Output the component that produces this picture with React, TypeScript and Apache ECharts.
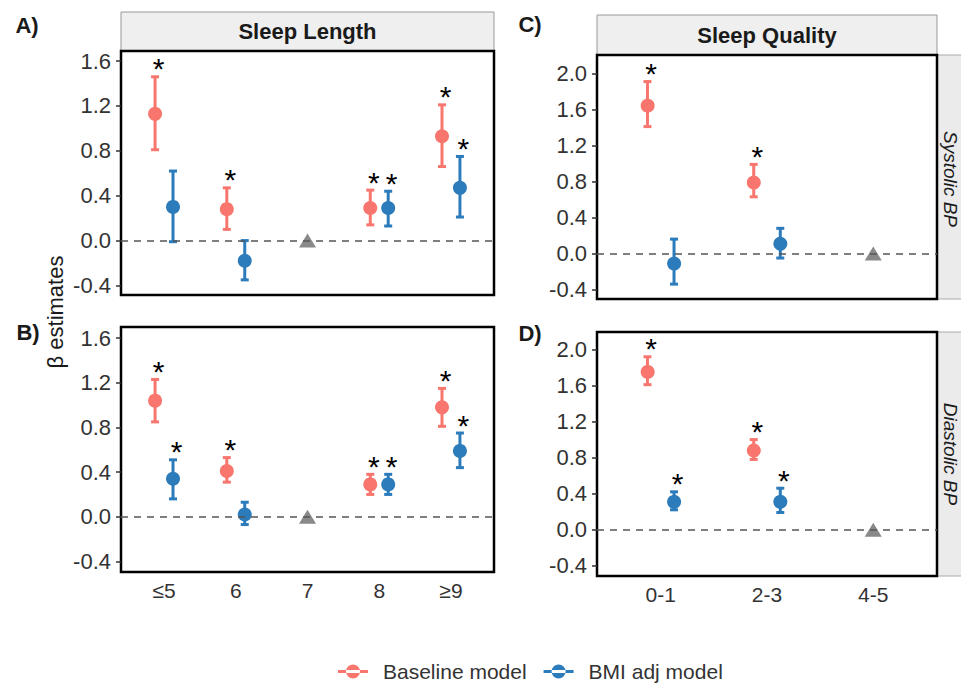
import React, { useEffect, useRef } from 'react';
import * as echarts from 'echarts';

// ---------- categories ----------
const lenCats = ['≤5', '6', '7', '8', '≥9'];
const qualCats = ['0-1', '2-3', '4-5'];
const lenRefIndex = 2; // 7 hours = reference
const qualRefIndex = 2; // 4-5 = reference

// ---------- tick labels ----------
const lenTicks = [-0.4, 0, 0.4, 0.8, 1.2, 1.6];
const qualTicks = [-0.4, 0, 0.4, 0.8, 1.2, 1.6, 2.0];

// ---------- A) Sleep length, systolic BP ----------
const sbpLenBaseEst = [1.13, 0.28, null, 0.29, 0.93];
const sbpLenBaseLo = [0.81, 0.10, null, 0.14, 0.66];
const sbpLenBaseHi = [1.46, 0.47, null, 0.45, 1.21];
const sbpLenBaseSig = [1, 1, 0, 1, 1];
const sbpLenBmiEst = [0.30, -0.18, null, 0.29, 0.47];
const sbpLenBmiLo = [-0.01, -0.35, null, 0.13, 0.21];
const sbpLenBmiHi = [0.62, 0.0, null, 0.44, 0.75];
const sbpLenBmiSig = [0, 0, 0, 1, 1];

// ---------- B) Sleep length, diastolic BP ----------
const dbpLenBaseEst = [1.04, 0.41, null, 0.29, 0.98];
const dbpLenBaseLo = [0.85, 0.31, null, 0.20, 0.81];
const dbpLenBaseHi = [1.23, 0.53, null, 0.38, 1.15];
const dbpLenBaseSig = [1, 1, 0, 1, 1];
const dbpLenBmiEst = [0.34, 0.02, null, 0.29, 0.59];
const dbpLenBmiLo = [0.16, -0.07, null, 0.20, 0.44];
const dbpLenBmiHi = [0.51, 0.13, null, 0.38, 0.75];
const dbpLenBmiSig = [1, 0, 0, 1, 1];

// ---------- C) Sleep quality, systolic BP ----------
const sbpQualBaseEst = [1.66, 0.80, null];
const sbpQualBaseLo = [1.41, 0.63, null];
const sbpQualBaseHi = [1.91, 0.99, null];
const sbpQualBaseSig = [1, 1, 0];
const sbpQualBmiEst = [-0.10, 0.12, null];
const sbpQualBmiLo = [-0.34, -0.05, null];
const sbpQualBmiHi = [0.16, 0.28, null];
const sbpQualBmiSig = [0, 0, 0];

// ---------- D) Sleep quality, diastolic BP ----------
const dbpQualBaseEst = [1.77, 0.89, null];
const dbpQualBaseLo = [1.61, 0.78, null];
const dbpQualBaseHi = [1.92, 1.00, null];
const dbpQualBaseSig = [1, 1, 0];
const dbpQualBmiEst = [0.32, 0.32, null];
const dbpQualBmiLo = [0.22, 0.19, null];
const dbpQualBmiHi = [0.42, 0.46, null];
const dbpQualBmiSig = [1, 1, 0];

const refValue = 0;

const FONT = '"Liberation Sans", Arial, Helvetica, sans-serif';
const RED = '#F8766D';
const BLUE = '#2C7BBB';
const GREY = '#6B6B6B';
const DODGE = 0.125;

function rows(est: (number | null)[], lo: (number | null)[], hi: (number | null)[], sig: number[]) {
  const out: number[][] = [];
  est.forEach((e, i) => {
    if (e !== null) out.push([i, e as number, lo[i] as number, hi[i] as number, sig[i]]);
  });
  return out;
}

function errSeries(name: string, color: string, gi: number, dodge: number, data: number[][]) {
  return {
    type: 'custom',
    name,
    xAxisIndex: gi,
    yAxisIndex: gi,
    clip: false,
    itemStyle: { color },
    encode: { x: 0, y: [1, 2, 3] },
    data,
    renderItem: (params: any, api: any) => {
      const xi = api.value(0) + dodge;
      const pE = api.coord([xi, api.value(1)]);
      const pL = api.coord([xi, api.value(2)]);
      const pH = api.coord([xi, api.value(3)]);
      const x = pE[0];
      const cap = 4;
      const ls = { stroke: color, lineWidth: 3 };
      const children: any[] = [
        { type: 'line', shape: { x1: x, y1: pL[1], x2: x, y2: pH[1] }, style: ls },
        { type: 'line', shape: { x1: x - cap, y1: pL[1], x2: x + cap, y2: pL[1] }, style: ls },
        { type: 'line', shape: { x1: x - cap, y1: pH[1], x2: x + cap, y2: pH[1] }, style: ls },
        { type: 'circle', shape: { cx: x, cy: pE[1], r: 7 }, style: { fill: color } },
      ];
      if (api.value(4) === 1) {
        children.push({
          type: 'text',
          style: {
            text: '*',
            x: x + 3.5,
            y: pH[1] - 8,
            fontSize: 30,
            fontFamily: FONT,
            fill: '#000',
            textAlign: 'center',
            textVerticalAlign: 'middle',
          },
        });
      }
      return { type: 'group', children };
    },
  };
}

function refSeries(gi: number, refIdx: number) {
  return {
    type: 'scatter',
    name: 'Reference',
    xAxisIndex: gi,
    yAxisIndex: gi,
    symbol: 'triangle',
    symbolSize: [17, 14],
    itemStyle: { color: GREY },
    data: [[refIdx, refValue]],
    z: 1,
    markLine: {
      silent: true,
      symbol: 'none',
      label: { show: false },
      lineStyle: { color: '#555', width: 1.5, type: [7, 6] },
      data: [{ yAxis: refValue }],
    },
  };
}

const grids = [
  { left: 121, top: 51, width: 373, height: 244 },
  { left: 121, top: 327, width: 373, height: 245 },
  { left: 597, top: 55, width: 340, height: 244 },
  { left: 597, top: 332, width: 340, height: 244 },
];

function xAxisFor(gi: number, cats: string[], show: boolean) {
  const idx = cats.map((_, i) => i);
  return {
    type: 'value',
    gridIndex: gi,
    position: 'bottom',
    min: -0.6,
    max: cats.length - 0.4,
    axisLine: { show: false, onZero: false },
    axisTick: { show: false },
    splitLine: { show: false },
    axisLabel: {
      show,
      customValues: idx,
      formatter: (v: number) => cats[Math.round(v)] ?? '',
      fontSize: 21,
      fontFamily: FONT,
      color: '#333',
      margin: 8,
    },
  };
}

function yAxisFor(gi: number, ticks: number[], min: number, max: number) {
  return {
    type: 'value',
    gridIndex: gi,
    position: 'left',
    min,
    max,
    axisLine: { show: false, onZero: false },
    splitLine: { show: false },
    axisTick: { show: true, customValues: ticks, length: 5, lineStyle: { color: '#333', width: 1.5 } },
    axisLabel: {
      customValues: ticks,
      formatter: (v: number) => (Math.abs(v) < 1e-9 ? '0.0' : v.toFixed(1)),
      fontSize: 22,
      fontFamily: FONT,
      color: '#333',
      margin: 10,
    },
  };
}

const legendIcon = 'path://M0,5.5 L30,5.5 L30,8.5 L0,8.5 Z M8,7 A7,7 0 1,0 22,7 A7,7 0 1,0 8,7 Z';

function stripText(text: string, x: number, y: number, bold: boolean, italic: boolean, size: number, rot = 0) {
  return {
    type: 'text',
    x,
    y,
    rotation: rot,
    style: {
      text,
      x: 0,
      y: 0,
      fontSize: size,
      fontWeight: bold ? 'bold' : 'normal',
      fontStyle: italic ? 'italic' : 'normal',
      fontFamily: FONT,
      fill: '#1a1a1a',
      textAlign: 'center',
      textVerticalAlign: 'middle',
    },
  };
}

export default function App() {
  const ref = useRef<HTMLDivElement>(null);
  useEffect(() => {
    if (!ref.current) return;
    const chart = echarts.init(ref.current, undefined, { renderer: 'svg' });
    const option: any = {
      animation: false,
      backgroundColor: '#fff',
      textStyle: { fontFamily: FONT },
      grid: grids.map((g) => ({ ...g, show: true, borderColor: '#000', borderWidth: 2.5, backgroundColor: 'transparent' })),
      xAxis: [
        xAxisFor(0, lenCats, false),
        xAxisFor(1, lenCats, true),
        xAxisFor(2, qualCats, false),
        xAxisFor(3, qualCats, true),
      ],
      yAxis: [
        yAxisFor(0, lenTicks, -0.485, 1.69),
        yAxisFor(1, lenTicks, -0.495, 1.70),
        yAxisFor(2, qualTicks, -0.505, 2.205),
        yAxisFor(3, qualTicks, -0.515, 2.195),
      ],
      legend: {
        left: 338,
        top: 661,
        itemWidth: 30,
        itemHeight: 14,
        itemGap: 17,
        padding: 0,
        textStyle: { fontSize: 21, fontFamily: FONT, color: '#333', padding: [0, 0, 0, 10] },
        data: [
          { name: 'Baseline model', icon: legendIcon },
          { name: 'BMI adj model', icon: legendIcon },
        ],
      },
      series: [
        refSeries(0, lenRefIndex),
        errSeries('Baseline model', RED, 0, -DODGE, rows(sbpLenBaseEst, sbpLenBaseLo, sbpLenBaseHi, sbpLenBaseSig)),
        errSeries('BMI adj model', BLUE, 0, DODGE, rows(sbpLenBmiEst, sbpLenBmiLo, sbpLenBmiHi, sbpLenBmiSig)),
        refSeries(1, lenRefIndex),
        errSeries('Baseline model', RED, 1, -DODGE, rows(dbpLenBaseEst, dbpLenBaseLo, dbpLenBaseHi, dbpLenBaseSig)),
        errSeries('BMI adj model', BLUE, 1, DODGE, rows(dbpLenBmiEst, dbpLenBmiLo, dbpLenBmiHi, dbpLenBmiSig)),
        refSeries(2, qualRefIndex),
        errSeries('Baseline model', RED, 2, -DODGE, rows(sbpQualBaseEst, sbpQualBaseLo, sbpQualBaseHi, sbpQualBaseSig)),
        errSeries('BMI adj model', BLUE, 2, DODGE, rows(sbpQualBmiEst, sbpQualBmiLo, sbpQualBmiHi, sbpQualBmiSig)),
        refSeries(3, qualRefIndex),
        errSeries('Baseline model', RED, 3, -DODGE, rows(dbpQualBaseEst, dbpQualBaseLo, dbpQualBaseHi, dbpQualBaseSig)),
        errSeries('BMI adj model', BLUE, 3, DODGE, rows(dbpQualBmiEst, dbpQualBmiLo, dbpQualBmiHi, dbpQualBmiSig)),
      ],
      graphic: [
        // top strips
        { type: 'rect', shape: { x: 121, y: 12, width: 373, height: 39 }, style: { fill: '#EFEFEF', stroke: '#999', lineWidth: 1 }, z: -1 },
        stripText('Sleep Length', 307.5, 31.5, true, false, 22),
        { type: 'rect', shape: { x: 597, y: 15, width: 340, height: 40 }, style: { fill: '#EFEFEF', stroke: '#999', lineWidth: 1 }, z: -1 },
        stripText('Sleep Quality', 767, 35, true, false, 22),
        // right strips
        { type: 'rect', shape: { x: 937, y: 55, width: 30, height: 244 }, style: { fill: '#EBEBEB', stroke: '#AAA', lineWidth: 1 }, z: -1 },
        stripText('Systolic BP', 950, 179, false, true, 19, -Math.PI / 2),
        { type: 'rect', shape: { x: 937, y: 332, width: 30, height: 244 }, style: { fill: '#EBEBEB', stroke: '#AAA', lineWidth: 1 }, z: -1 },
        stripText('Diastolic BP', 950, 454, false, true, 19, -Math.PI / 2),
        // y label
        stripText('β estimates', 55, 312, false, false, 22, Math.PI / 2),
        // panel tags
        stripText('A)', 27, 25, true, false, 22),
        stripText('B)', 28, 332, true, false, 22),
        stripText('C)', 530, 24, true, false, 22),
        stripText('D)', 530, 333, true, false, 22),
      ],
    };
    chart.setOption(option);
    return () => chart.dispose();
  }, []);
  return <div ref={ref} style={{ position: 'fixed', left: 0, top: 0, width: 961, height: 685 }} />;
}
